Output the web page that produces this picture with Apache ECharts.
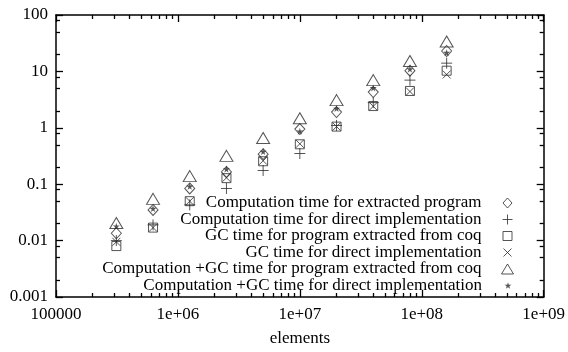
<!DOCTYPE html>
<html>
<head>
<meta charset="utf-8">
<script src="https://cdn.jsdelivr.net/npm/echarts@6/dist/echarts.min.js"></script>
<style>
html,body{margin:0;padding:0;background:#fff;}
#chart{width:568px;height:352px;}
</style>
</head>
<body>
<div id="chart"></div>
<script>
// ---- data ----
const elements = [312500, 625000, 1250000, 2500000, 5000000, 10000000, 20000000, 40000000, 80000000, 160000000];
const compExtracted = [0.0135, 0.035, 0.084, 0.165, 0.34, 0.95, 1.9, 4.3, 10.3, 23];
const compDirect    = [0.0100, 0.019, 0.043, 0.084, 0.175, 0.35, 1.1, 2.8, 7.0, 14];
const gcExtracted   = [0.0080, 0.017, 0.050, 0.128, 0.255, 0.51, 1.05, 2.43, 4.5, 10.3];
const gcDirect      = [0.0095, 0.017, 0.050, 0.130, 0.26, 0.52, 1.05, 2.4, 4.4, 8.8];
const totalExtracted= [0.0205, 0.055, 0.139, 0.318, 0.66, 1.48, 3.1, 7.0, 15.3, 34];
const totalDirect   = [0.0180, 0.037, 0.092, 0.186, 0.38, 0.87, 2.2, 5.1, 11, 21.5];

const seriesNames = [
  'Computation time for extracted program',
  'Computation time for direct implementation',
  'GC time for program extracted from coq',
  'GC time for direct implementation',
  'Computation +GC time for program extracted from coq',
  'Computation +GC time for direct implementation'
];
const xTickValues = [1e5, 1e6, 1e7, 1e8, 1e9];
const xTickLabels = ['100000', '1e+06', '1e+07', '1e+08', '1e+09'];
const yTickValues = [0.001, 0.01, 0.1, 1, 10, 100];
const yTickLabels = ['0.001', '0.01', '0.1', '1', '10', '100'];
const xAxisName = 'elements';

// ---- minor tick positions ----
const xMinor = [];
for (let d = 1e5; d < 1e9; d *= 10) for (let k = 2; k <= 9; k++) xMinor.push(d * k);
const yMinor = [];
for (let d = 0.001; d < 100; d *= 10) for (const k of [2, 5, 8]) yMinor.push(d * k);

const FONT = "'Liberation Serif', 'DejaVu Serif', 'Times New Roman', serif";
const FS = 17;
const INK = '#2a2a2a';

function xAx(position, ticks, len, showLine, showLabel) {
  const o = {
    type: 'log', logBase: 10, min: 1e5, max: 1e9, position: position,
    axisLine: { show: showLine, lineStyle: { color: '#000', width: 1.5 } },
    axisTick: { show: true, inside: true, length: len, customValues: ticks, lineStyle: { color: '#000', width: 1.3 } },
    axisLabel: { show: showLabel },
    splitLine: { show: false }, minorTick: { show: false }
  };
  if (showLabel) {
    o.axisLabel = {
      show: true, customValues: xTickValues, margin: 9,
      fontFamily: FONT, fontSize: FS, color: '#000',
      formatter: v => xTickLabels[xTickValues.findIndex(t => Math.abs(Math.log10(t) - Math.log10(v)) < 1e-6)]
    };
    o.name = xAxisName; o.nameLocation = 'middle'; o.nameGap = 33;
    o.nameTextStyle = { fontFamily: FONT, fontSize: FS, color: '#000' };
  }
  return o;
}
function yAx(position, ticks, len, showLine, showLabel) {
  const o = {
    type: 'log', logBase: 10, min: 0.001, max: 100, position: position,
    axisLine: { show: showLine, lineStyle: { color: '#000', width: 1.5 } },
    axisTick: { show: true, inside: true, length: len, customValues: ticks, lineStyle: { color: '#000', width: 1.3 } },
    axisLabel: { show: false },
    splitLine: { show: false }, minorTick: { show: false }
  };
  if (showLabel) {
    o.axisLabel = {
      show: true, customValues: yTickValues, margin: 8,
      fontFamily: FONT, fontSize: FS, color: '#000',
      formatter: v => yTickLabels[yTickValues.findIndex(t => Math.abs(Math.log10(t) - Math.log10(v)) < 1e-6)]
    };
  }
  return o;
}

const hollow = { color: 'rgba(0,0,0,0)', borderColor: INK, borderWidth: 1 };
const symbols = [
  { symbol: 'diamond', size: [10, 11], style: hollow },
  { symbol: 'path://M0,5 L10,5 M5,0 L5,10', size: 11, style: hollow },
  { symbol: 'rect', size: 9, style: hollow },
  { symbol: 'path://M0,0 L10,10 M10,0 L0,10', size: 8, style: hollow },
  { symbol: 'triangle', size: [13, 11], style: hollow },
  { symbol: 'path://M50,0 L61,35 L98,35 L68,57 L79,91 L50,70 L21,91 L32,57 L2,35 L39,35 Z', size: 7, style: { color: INK, borderWidth: 0 } }
];
const legendSizes = [[9, 10], [10, 10], [9, 9], [8, 8], [12, 10], [7, 7]];
const seriesData = [compExtracted, compDirect, gcExtracted, gcDirect, totalExtracted, totalDirect];

const rowCenters = [203.5, 220, 236.5, 253, 269.5, 286];

const option = {
  animation: false,
  backgroundColor: '#fff',
  grid: { left: 56, right: 23, top: 15, bottom: 50, containLabel: false },
  xAxis: [
    xAx('bottom', xTickValues, 7, true, true),
    xAx('bottom', xMinor, 4, false, false),
    xAx('top', xTickValues, 7, true, false),
    xAx('top', xMinor, 4, false, false)
  ],
  yAxis: [
    yAx('left', yTickValues, 7, true, true),
    yAx('left', yMinor, 4, false, false),
    yAx('right', yTickValues, 7, true, false),
    yAx('right', yMinor, 4, false, false)
  ],
  legend: seriesNames.map((name, i) => ({
    data: [name], orient: 'vertical', align: 'right', right: 60 - legendSizes[i][0] / 2, top: rowCenters[i] - 9,
    itemWidth: legendSizes[i][0], itemHeight: legendSizes[i][1], selectedMode: false, padding: 0,
    itemStyle: i === 5 ? { color: INK, borderWidth: 0 } : { color: 'rgba(0,0,0,0)', borderColor: INK, borderWidth: 1 },
    textStyle: { fontFamily: FONT, fontSize: FS, color: '#000', padding: [0, 21 - legendSizes[i][0] / 2, 0, 0] }
  })),
  series: seriesNames.map((name, i) => ({
    name: name, type: 'scatter', xAxisIndex: 0, yAxisIndex: 0,
    symbol: symbols[i].symbol, symbolSize: symbols[i].size,
    itemStyle: symbols[i].style,
    emphasis: { disabled: true },
    data: elements.map((x, j) => [x, seriesData[i][j]]),
    z: 10 - i
  }))
};

const chart = echarts.init(document.getElementById('chart'), null, { renderer: 'canvas' });
chart.setOption(option);
</script>
</body>
</html>
